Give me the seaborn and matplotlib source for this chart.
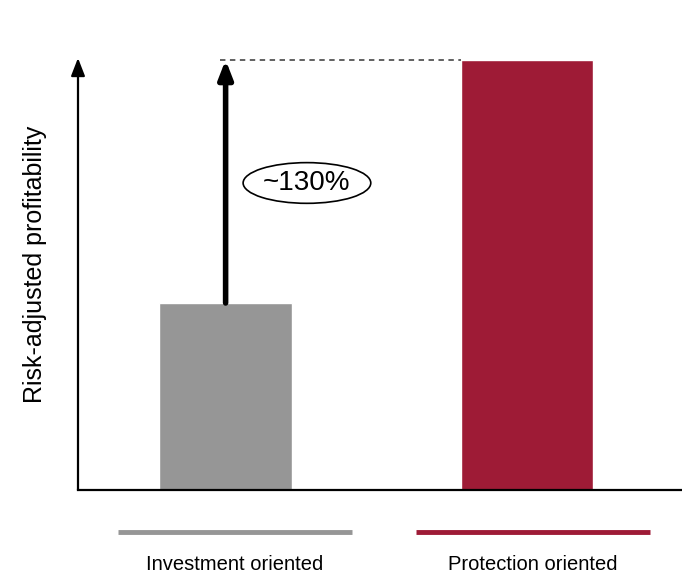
import matplotlib
matplotlib.use("Agg")
import matplotlib.pyplot as plt
import seaborn as sns
import pandas as pd

# data
categories = ["Investment oriented", "Protection oriented"]
values = [1.0, 2.3]
colors = ["#969696", "#9e1b36"]
uplift_label = "~130%"
ylabel = "Risk-adjusted profitability"

sns.set_theme(style="white")
plt.rcParams["font.family"] = ["Liberation Sans", "DejaVu Sans"]

W, H = 682, 583
fig = plt.figure(figsize=(W / 100, H / 100), dpi=100)
ax = fig.add_axes([78 / W, (H - 490) / H, 1 - 78 / W, (490 - 58) / H])

df = pd.DataFrame({"type": categories, "value": values})
sns.barplot(data=df, x="type", y="value", hue="type", palette=colors,
            width=0.44, saturation=1, legend=False, ax=ax)

ax.set_xlim(-0.49, 1.515)
ax.set_ylim(0, 2.31)
ax.set_xticks([])
ax.set_yticks([])
ax.set_xlabel("")
ax.set_ylabel(ylabel, fontsize=18, color="black")
ax.yaxis.set_label_coords(-0.052, 0.522)
for s in ["top", "right", "left"]:
    ax.spines[s].set_visible(False)
ax.spines["bottom"].set_linewidth(1.6)
ax.spines["bottom"].set_color("black")

# y axis with arrow head
ax.annotate("", xy=(0, 1.0), xytext=(0, 0), xycoords="axes fraction",
            arrowprops=dict(arrowstyle="-|>,head_width=0.35,head_length=0.9",
                            lw=1.6, color="black", shrinkA=0, shrinkB=0),
            annotation_clip=False)

# uplift arrow and dashed reference line
x0 = 0.0
ax.plot([x0 - 0.02, 1 - 0.22], [values[1], values[1]], ls=(0, (3, 2.5)),
        color="#555555", lw=1.3, clip_on=False)
ax.annotate("", xy=(x0, values[1]), xytext=(x0, values[0]),
            arrowprops=dict(arrowstyle="-|>,head_width=0.35,head_length=0.9",
                            lw=4, color="black", shrinkA=0, shrinkB=0),
            annotation_clip=False)
ax.text(0.27, (490 - 183) / 187, uplift_label, ha="center", va="center",
        fontsize=20, color="black",
        bbox=dict(boxstyle="ellipse,pad=0.05", fc="white", ec="black", lw=1.2))

# legend below the axis
leg_lines = [(118, 352), (416, 650)]
for (x1, x2), lab, c in zip(leg_lines, categories, colors):
    fig.add_artist(plt.Line2D([x1 / W, x2 / W], [1 - 532 / H, 1 - 532 / H],
                              color=c, lw=3.5, solid_capstyle="butt",
                              transform=fig.transFigure))
    fig.text((x1 + x2) / 2 / W, 1 - 565 / H, lab, ha="center", va="center",
             fontsize=14.5, color="black")

fig.savefig("out.png", dpi=100)
